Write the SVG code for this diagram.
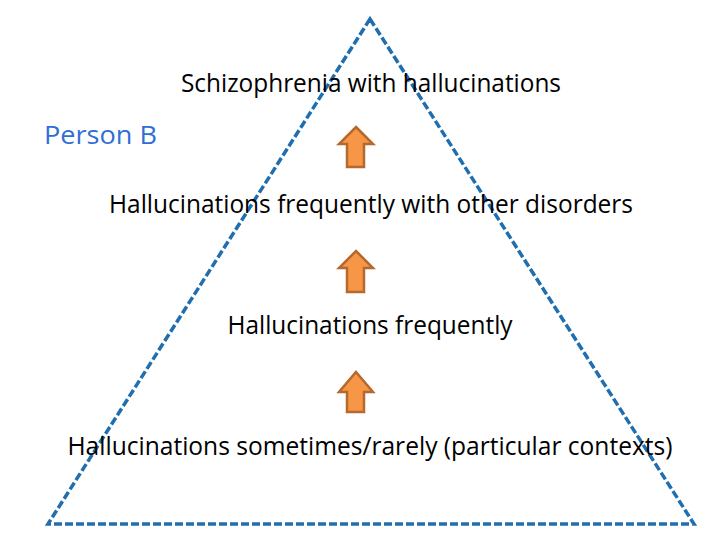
<svg xmlns="http://www.w3.org/2000/svg" width="720" height="540" viewBox="0 0 720 540">
<style>
.t{font-family:"Open Sans","Liberation Sans",sans-serif;font-size:25px;fill:#000}
.b{fill:#2F6FD5}
.arr{fill:#F79646;stroke:#B5692E;stroke-width:2.5;stroke-linejoin:miter}
.tri{fill:none;stroke:#1F6FB0;stroke-width:3.5;stroke-dasharray:8 3}
</style>
<rect width="720" height="540" fill="#fff"/>
<g id="pyramid">
<polygon class="tri" points="370,19 694,524 48,524"/>
</g>
<g id="connectors">
<polygon class="arr" points="356,127 373,144 364,144 364,167 347,167 347,144 339,144"/>
<polygon class="arr" points="356,251 373,268 364,268 364,292 347,292 347,268 339,268"/>
<polygon class="arr" points="356,372 373,392 364,392 364,412 347,412 347,392 339,392"/>
</g>
<g id="n1"><text class="t" x="371" y="92" text-anchor="middle" textLength="380" lengthAdjust="spacingAndGlyphs">Schizophrenia with hallucinations</text></g>
<g id="n2"><text class="t b" x="44" y="144" textLength="113" lengthAdjust="spacingAndGlyphs">Person B</text></g>
<g id="n3"><text class="t" x="371" y="213" text-anchor="middle" textLength="524" lengthAdjust="spacingAndGlyphs">Hallucinations frequently with other disorders</text></g>
<g id="n4"><text class="t" x="370" y="334" text-anchor="middle" textLength="285" lengthAdjust="spacingAndGlyphs">Hallucinations frequently</text></g>
<g id="n5"><text class="t" x="370" y="455" text-anchor="middle" textLength="605" lengthAdjust="spacingAndGlyphs">Hallucinations sometimes/rarely (particular contexts)</text></g>
</svg>
